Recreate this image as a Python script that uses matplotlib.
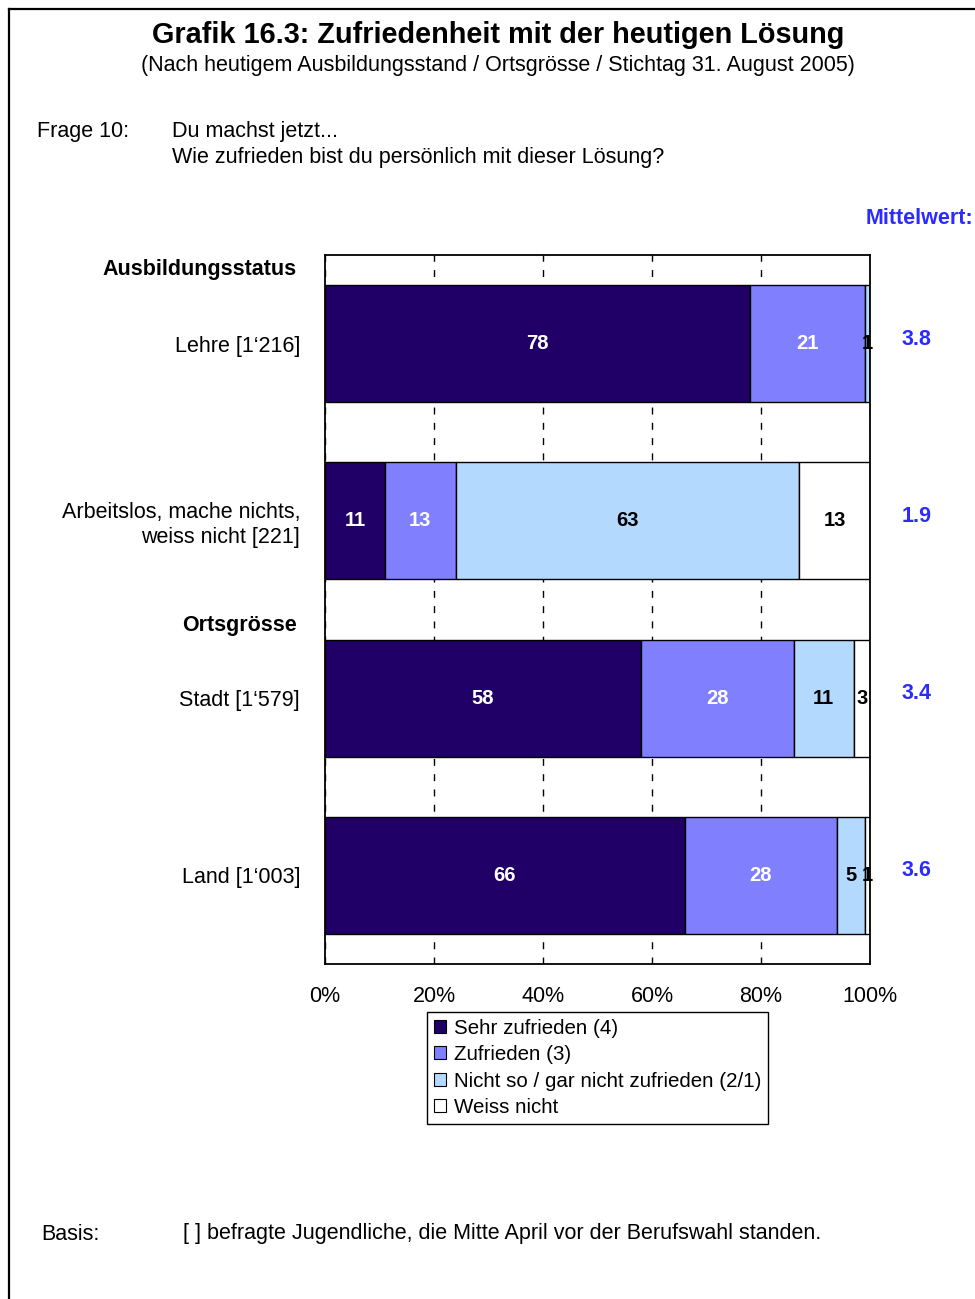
import matplotlib
matplotlib.use("Agg")
import matplotlib.pyplot as plt
from matplotlib.patches import Patch
import numpy as np

plt.rcParams['font.family'] = ['Liberation Sans', 'DejaVu Sans']

# data
categories = ["Lehre [1\u2018216]",
              "Arbeitslos, mache nichts,\nweiss nicht [221]",
              "Stadt [1\u2018579]",
              "Land [1\u2018003]"]
sehr_zufrieden = [78, 11, 58, 66]
zufrieden = [21, 13, 28, 28]
nicht_zufrieden = [1, 63, 11, 5]
weiss_nicht = [0, 13, 3, 1]
mittelwert = ["3.8", "1.9", "3.4", "3.6"]

series_names = ["Sehr zufrieden (4)", "Zufrieden (3)",
                "Nicht so / gar nicht zufrieden (2/1)", "Weiss nicht"]
series_colors = ["#200066", "#8080FF", "#B3D9FF", "#FFFFFF"]
label_colors = ["white", "white", "black", "black"]
x_ticks = [0, 20, 40, 60, 80, 100]

W, H = 975, 1299
fig = plt.figure(figsize=(W / 100, H / 100), dpi=100)

def fx(px):
    return px / W

def fy(py):
    return 1 - py / H

# frame around the page (left and top edges)
fig.add_artist(plt.Line2D([fx(9), fx(9)], [0, fy(9)], color="black", lw=1.6))
fig.add_artist(plt.Line2D([fx(9), 1], [fy(9), fy(9)], color="black", lw=1.6))

ax = fig.add_axes([fx(325), fy(964), 545 / W, 709 / H])

y = np.arange(len(categories))
series = [sehr_zufrieden, zufrieden, nicht_zufrieden, weiss_nicht]
left = np.zeros(len(categories))
for vals, name, col, lcol in zip(series, series_names, series_colors, label_colors):
    vals = np.array(vals, dtype=float)
    ax.barh(y, vals, left=left, height=0.66, color=col, edgecolor="black",
            linewidth=1, label=name, zorder=2)
    for yi, v, l in zip(y, vals, left):
        if v > 0:
            ax.text(l + v / 2, yi, f"{int(v)}", ha="center", va="center",
                    color=lcol, fontsize=14.5, fontweight="bold", zorder=3,
                    clip_on=False)
    left += vals

ax.set_xlim(0, 100)
ax.set_ylim(3.5, -0.5)
ax.set_xticks(x_ticks)
ax.set_xticklabels([f"{t}%" for t in x_ticks], fontsize=15.5)
ax.set_yticks(y)
ax.set_yticklabels(categories, fontsize=15.5, multialignment="right")
ax.tick_params(axis="both", length=0)
ax.tick_params(axis="y", pad=18)
ax.tick_params(axis="x", pad=16)
ax.xaxis.grid(True, color="black", linestyle=(0, (5, 6)), linewidth=1, zorder=0)
ax.set_axisbelow(True)
for s in ax.spines.values():
    s.set_linewidth(1.3)

# Mittelwert column
for yi, m in zip(y, mittelwert):
    ax.text(1.085, yi - 0.025, m, transform=ax.get_yaxis_transform(), ha="center",
            va="center", color="#2B2BFF", fontsize=15.5, fontweight="bold")
fig.text(fx(973), fy(218), "Mittelwert:", ha="right", va="center",
         color="#2B2BFF", fontsize=15.5, fontweight="bold")

# group headers
fig.text(fx(297), fy(270), "Ausbildungsstatus", ha="right", va="center",
         fontsize=15.5, fontweight="bold")
fig.text(fx(297), fy(625), "Ortsgr\u00f6sse", ha="right", va="center",
         fontsize=15.5, fontweight="bold")

# titles and notes
fig.text(fx(498), fy(35), "Grafik 16.3: Zufriedenheit mit der heutigen L\u00f6sung",
         ha="center", va="center", fontsize=20.8, fontweight="bold")
fig.text(fx(498), fy(65), "(Nach heutigem Ausbildungsstand / Ortsgr\u00f6sse / Stichtag 31. August 2005)",
         ha="center", va="center", fontsize=15.5)
fig.text(fx(37), fy(132), "Frage 10:", ha="left", va="center", fontsize=15.5)
fig.text(fx(172), fy(132), "Du machst jetzt...", ha="left", va="center", fontsize=15.5)
fig.text(fx(172), fy(158), "Wie zufrieden bist du pers\u00f6nlich mit dieser L\u00f6sung?",
         ha="left", va="center", fontsize=15.5)
fig.text(fx(41), fy(1234), "Basis:", ha="left", va="center", fontsize=15.5)
fig.text(fx(183), fy(1234), "[ ] befragte Jugendliche, die Mitte April vor der Berufswahl standen.",
         ha="left", va="center", fontsize=15.5)

handles = [Patch(facecolor=c, edgecolor="black", linewidth=0.8) for c in series_colors]
leg = fig.legend(handles, series_names, loc="upper left",
                 bbox_to_anchor=(fx(427), fy(1012)), fontsize=14.8,
                 handlelength=0.6, handleheight=0.6, handletextpad=0.4,
                 labelspacing=0.36, borderpad=0.33, borderaxespad=0,
                 fancybox=False, edgecolor="black", framealpha=1)
leg.get_frame().set_linewidth(1)

fig.savefig("out.png", dpi=100)
